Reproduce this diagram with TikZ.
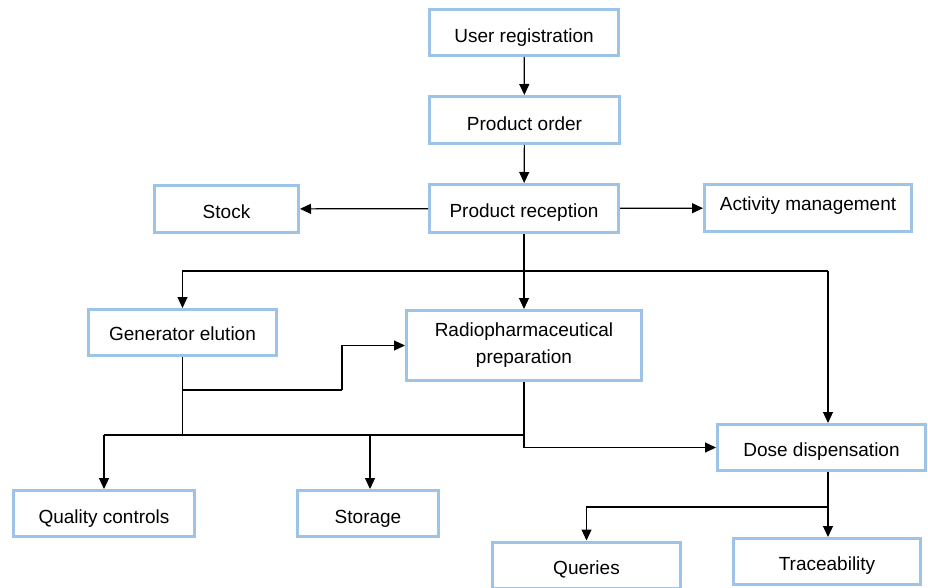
\documentclass[tikz,border=0pt]{standalone}
\usepackage{fontspec}
\setmainfont{Liberation Sans}
\usetikzlibrary{arrows.meta}
\definecolor{boxblue}{HTML}{9DC3E6}
\newcommand\lowtxt[2]{\raisebox{-#1pt}[\height][\depth]{#2}}
\begin{document}
\begin{tikzpicture}[x=1pt,y=-1pt,
  box/.style={draw=boxblue,line width=3pt,fill=white,inner sep=0pt,align=center,
    font=\fontsize{19}{27}\selectfont},
  conn/.style={draw=black,line width=1.2pt},
  arr/.style={conn,-{Triangle[length=11pt,width=10pt]}}]
\useasboundingbox (0,0) rectangle (928,588);
\node[box,minimum width=189pt,minimum height=46pt] (ur) at (524,32.5) {\lowtxt{5}{User registration}};
\node[box,minimum width=190pt,minimum height=47pt] (po) at (524.5,120) {\lowtxt{4}{Product order}};
\node[box,minimum width=189pt,minimum height=48pt] (pr) at (524,208.5) {\lowtxt{4}{Product reception}};
\node[box,minimum width=144pt,minimum height=47pt] (stock) at (226.5,209) {\lowtxt{3}{Stock}};
\node[box,minimum width=207pt,minimum height=47pt] (am) at (808,208) {\lowtxt{-2}{Activity management}};
\node[box,minimum width=188pt,minimum height=46pt] (ge) at (182.5,332.5) {\lowtxt{1}{Generator elution}};
\node[box,minimum width=235pt,minimum height=70pt] (rp) at (524,345.5) {Radiopharmaceutical\\preparation};
\node[box,minimum width=208pt,minimum height=46pt] (dd) at (821.5,447.5) {\lowtxt{4}{Dose dispensation}};
\node[box,minimum width=181pt,minimum height=46pt] (qc) at (104,513.5) {\lowtxt{5}{Quality controls}};
\node[box,minimum width=141pt,minimum height=46pt] (st) at (368,513.5) {\lowtxt{5}{Storage}};
\node[box,minimum width=188pt,minimum height=46pt] (qu) at (586.5,565) {\lowtxt{4}{Queries}};
\node[box,minimum width=187pt,minimum height=46pt] (tr) at (827,561.5) {\lowtxt{4}{Traceability}};
% junctions
\coordinate (j1) at (524,271);
\coordinate (jd) at (828,271);
\coordinate (g1) at (182.5,390);
\coordinate (g2) at (342,390);
\coordinate (g3) at (342,345.5);
\coordinate (h1) at (182.5,435);
\coordinate (h2) at (524,435);
\coordinate (hq) at (104,435);
\coordinate (hs) at (370,435);
\coordinate (r1) at (524,447.5);
\coordinate (d1) at (828,472);
\coordinate (d2) at (828,507);
\coordinate (d3) at (586.5,507);
% connectors
\draw[arr] (ur) -- (po);
\draw[arr] (po) -- (pr);
\draw[arr] (pr) -- (stock);
\draw[arr] (pr) -- (am);
\draw[arr] (pr) -- (rp);
\draw[conn] (j1) -- (jd);
\draw[arr] (j1) -| (ge.north);
\draw[arr] (jd) -- (jd |- dd.north);
\draw[conn] (ge.south) -- (g1) -- (g2);
\draw[arr] (g2) -- (g3) -- (rp.west);
\draw[conn] (g1) -- (h1);
\draw[conn] (hq) -- (h2);
\draw[arr] (hq) -- (qc.north);
\draw[arr] (hs) -- (hs |- st.north);
\draw[conn] (rp.south) -- (r1);
\draw[arr] (r1) -- (dd.west);
\draw[arr] (d1) -- (d1 |- tr.north);
\draw[arr] (d2) -- (d3) -- (qu.north);
\end{tikzpicture}
\end{document}
